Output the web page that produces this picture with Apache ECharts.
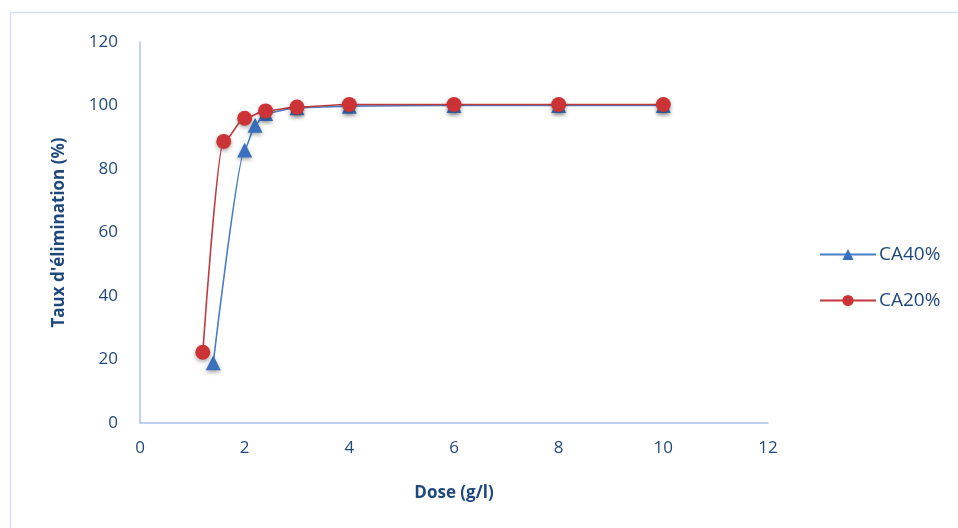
<!DOCTYPE html>
<html><head><meta charset="utf-8">
<script src="https://cdn.jsdelivr.net/npm/echarts@6/dist/echarts.min.js"></script>
<style>html,body{margin:0;padding:0;background:#fff}#c{width:958px;height:528px}</style>
</head><body><div id="c"></div>
<script>
const seriesNames = ['CA40%', 'CA20%'];
const dose40 = [1.4, 2.0, 2.2, 2.4, 3, 4, 6, 8, 10];
const taux40 = [19, 86, 93.8, 97.5, 99.3, 99.8, 100, 100, 100];
const dose20 = [1.2, 1.6, 2.0, 2.4, 3, 4, 6, 8, 10];
const taux20 = [22.3, 88.7, 96, 98.3, 99.5, 100.3, 100.3, 100.3, 100.3];
const xTitle = 'Dose (g/l)';
const yTitle = "Taux d'élimination (%)";

const txt = '#1F497D';
const axisCol = '#A9C4EB';
const font = "'Open Sans', 'Liberation Sans', sans-serif";
const chart = echarts.init(document.getElementById('c'), null, {renderer: 'canvas'});
const zip = (a, b) => a.map((v, i) => [v, b[i]]);
chart.setOption({
  animation: false,
  backgroundColor: '#fff',
  graphic: [{type: 'rect', shape: {x: 10.5, y: 12.5, width: 1000, height: 600}, style: {fill: 'none', stroke: '#D5E2F3', lineWidth: 1.5}, z: -1}],
  grid: {left: 140, right: 190, top: 42, bottom: 105},
  legend: {
    orient: 'vertical', left: 814, top: 240, itemWidth: 56, itemHeight: 14, itemGap: 27,
    textStyle: {color: txt, fontSize: 19, fontFamily: font, padding: [0, 0, 0, -2]},
    data: seriesNames
  },
  xAxis: {
    type: 'value', min: 0, max: 12, interval: 2,
    name: xTitle, nameLocation: 'middle', nameGap: 62,
    nameTextStyle: {color: txt, fontSize: 17, fontWeight: 'bold', fontFamily: font},
    axisLine: {show: true, lineStyle: {color: axisCol, width: 1.5}},
    axisTick: {show: false},
    splitLine: {show: false},
    axisLabel: {color: txt, fontSize: 17, fontFamily: font, margin: 17}
  },
  yAxis: {
    type: 'value', min: 0, max: 120, interval: 20,
    name: yTitle, nameLocation: 'middle', nameGap: 72,
    nameTextStyle: {color: txt, fontSize: 17, fontWeight: 'bold', fontFamily: font},
    axisLine: {show: true, lineStyle: {color: axisCol, width: 1.5}},
    axisTick: {show: false},
    splitLine: {show: false},
    axisLabel: {color: txt, fontSize: 17, fontFamily: font, margin: 22}
  },
  series: [
    {
      name: seriesNames[0], type: 'line', data: zip(dose40, taux40),
      smooth: 0.2, smoothMonotone: 'x',
      symbol: 'triangle', symbolSize: 15,
      lineStyle: {color: '#4A7EC4', width: 1.6},
      itemStyle: {color: '#3A70BE', shadowColor: 'rgba(0,0,0,0.35)', shadowBlur: 4, shadowOffsetY: 2}
    },
    {
      name: seriesNames[1], type: 'line', data: zip(dose20, taux20),
      smooth: 0.3, smoothMonotone: 'x',
      symbol: 'circle', symbolSize: 15,
      lineStyle: {color: '#C0393B', width: 1.6},
      itemStyle: {color: '#CC3336', shadowColor: 'rgba(0,0,0,0.35)', shadowBlur: 4, shadowOffsetY: 2}
    }
  ]
});
</script></body></html>
